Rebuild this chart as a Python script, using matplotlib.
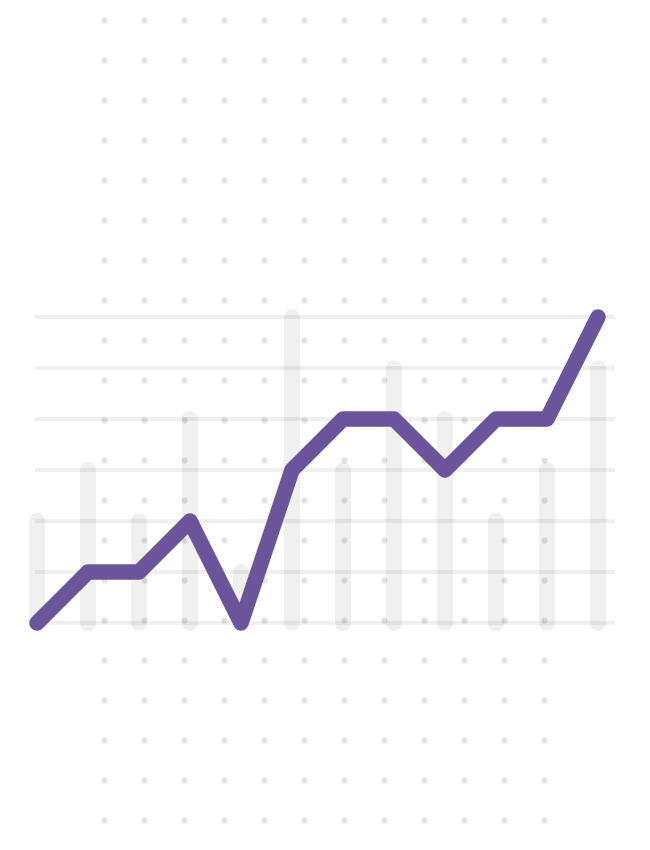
import numpy as np
import matplotlib
matplotlib.use('Agg')
import matplotlib.pyplot as plt

# valores (nivel 0..6)
posicoes = list(range(12))
barras = [2, 3, 2, 4, 1, 6, 3, 5, 4, 2, 3, 5]
linha = [0, 1, 1, 2, 0, 3, 4, 4, 3, 4, 4, 6]
niveis = [0, 1, 2, 3, 4, 5, 6]

px = 0.72  # 1 pixel em pontos a 100 dpi

fig = plt.figure(figsize=(6.5, 8.5), dpi=100)
fig.patch.set_facecolor('white')

# fundo de pontos (coordenadas em pixels)
ax_bg = fig.add_axes([0, 0, 1, 1])
ax_bg.set_xlim(0, 650)
ax_bg.set_ylim(850, 0)
ax_bg.axis('off')
gx, gy = np.meshgrid(np.arange(104, 545, 40), np.arange(20, 821, 40))
ax_bg.plot(gx.ravel(), gy.ravel(), 'o', color='#e1e1e1', markersize=6 * px,
           markeredgewidth=0)

# eixo principal: x = indice, y = nivel
ax = fig.add_axes([0, 0, 1, 1])
ax.patch.set_alpha(0)
ax.set_xlim(-37 / 51, (650 - 37) / 51)
ax.set_ylim((623 - 850) / 51, 623 / 51)
ax.axis('off')

for n in niveis:
    ax.plot([-2 / 51, 578 / 51], [n, n], color='black', alpha=0.06,
            linewidth=4 * px, solid_capstyle='butt')

for x, h in zip(posicoes, barras):
    ax.plot([x, x], [0, h], color='black', alpha=0.06, linewidth=16 * px,
            solid_capstyle='round')

ax.plot(posicoes, linha, color='#6c549a', linewidth=15.5 * px,
        solid_capstyle='round', solid_joinstyle='round')

fig.savefig('out.png', dpi=100)
